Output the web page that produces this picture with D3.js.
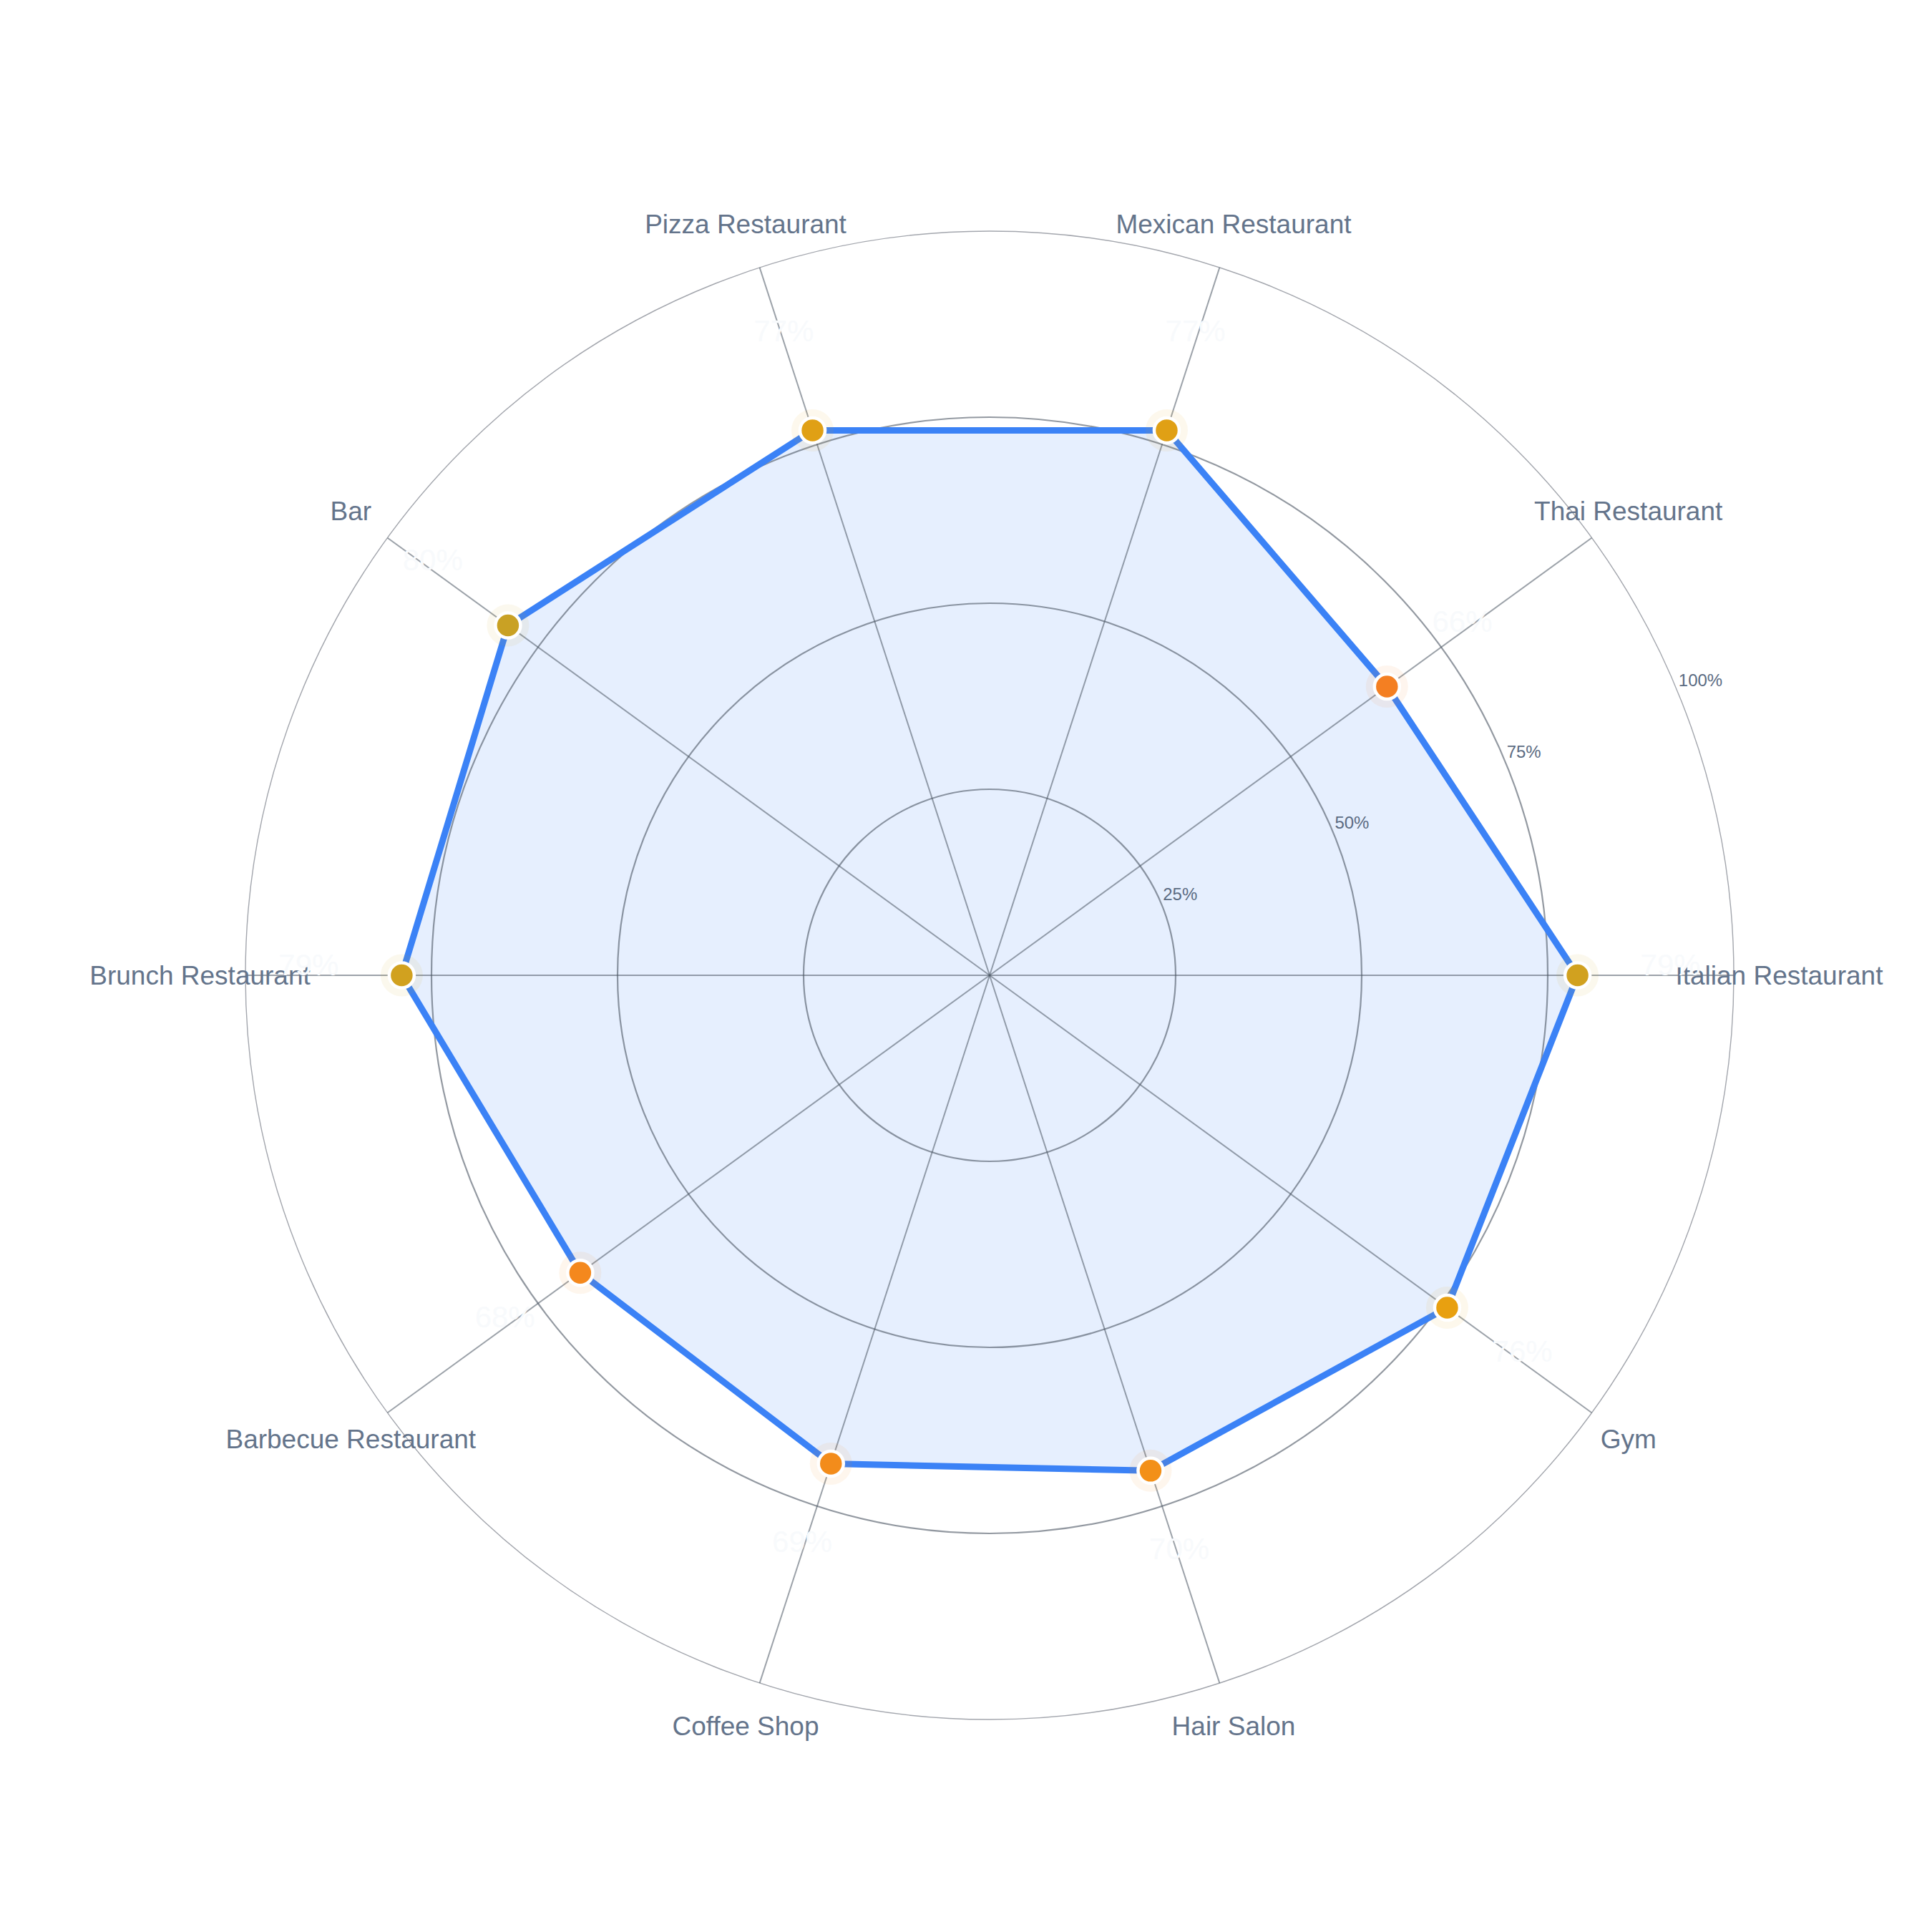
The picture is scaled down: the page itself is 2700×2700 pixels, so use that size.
<!DOCTYPE html>
<html>
<head>
<meta charset="utf-8">
<script src="https://cdn.jsdelivr.net/npm/d3@7/dist/d3.min.js"></script>
<style>
  html, body { margin: 0; padding: 0; background: #ffffff; }
  svg { display: block; }
</style>
</head>
<body>
<script>
// ---- Data ----
const categories = ["Italian Restaurant", "Thai Restaurant", "Mexican Restaurant", "Pizza Restaurant", "Bar",
                    "Brunch Restaurant", "Barbecue Restaurant", "Coffee Shop", "Hair Salon", "Gym"];
const values = [79, 66, 77, 77, 80, 79, 68, 69, 70, 76];
const tickValues = [25, 50, 75, 100];
const tickLabels = ["25%", "50%", "75%", "100%"];

// ---- Layout ----
const W = 2700, H = 2700;
const cx = 1383, cy = 1363, R = 1040;

const svg = d3.select("body").append("svg")
  .attr("width", W).attr("height", H)
  .attr("viewBox", `0 0 ${W} ${H}`);

svg.append("rect").attr("width", W).attr("height", H).attr("fill", "#ffffff");

const r = d3.scaleLinear().domain([0, 100]).range([0, R]);
const angle = d3.scaleLinear().domain([0, categories.length]).range([0, 2 * Math.PI]);
const colorScale = d3.scaleLinear()
  .domain([66, 70, 76, 80])
  .range(["#f47f22", "#f39018", "#e8a010", "#c9a124"]);

const px = (i, rad) => cx + rad * Math.cos(angle(i));
const py = (i, rad) => cy - rad * Math.sin(angle(i));

const g = svg.append("g");

// ---- Filled area ----
const pts = values.map((v, i) => [px(i, r(v)), py(i, r(v))]);
g.append("path")
  .attr("d", "M" + pts.map(p => p.join(",")).join("L") + "Z")
  .attr("fill", "#3b82f6")
  .attr("fill-opacity", 0.13)
  .attr("stroke", "none");

// ---- Grid circles ----
g.selectAll("circle.grid")
  .data(tickValues)
  .enter().append("circle")
  .attr("class", "grid")
  .attr("cx", cx).attr("cy", cy)
  .attr("r", d => r(d))
  .attr("fill", "none")
  .attr("stroke", d => d === 100 ? "#a3a6ad" : "#4b5563")
  .attr("stroke-opacity", d => d === 100 ? 1 : 0.6)
  .attr("stroke-width", d => d === 100 ? 1.4 : 2.2);

// ---- Spokes ----
g.selectAll("line.spoke")
  .data(categories)
  .enter().append("line")
  .attr("class", "spoke")
  .attr("x1", cx).attr("y1", cy)
  .attr("x2", (d, i) => px(i, r(100)))
  .attr("y2", (d, i) => py(i, r(100)))
  .attr("stroke", "#4b5563")
  .attr("stroke-opacity", 0.55)
  .attr("stroke-width", 2);

// ---- Outline ----
g.append("path")
  .attr("d", "M" + pts.map(p => p.join(",")).join("L") + "Z")
  .attr("fill", "none")
  .attr("stroke", "#3b82f6")
  .attr("stroke-width", 9)
  .attr("stroke-linejoin", "round");

// ---- Tick labels ----
const tickAngle = 22.5 * Math.PI / 180;
g.selectAll("text.tick")
  .data(tickValues)
  .enter().append("text")
  .attr("class", "tick")
  .attr("x", d => cx + r(d) * Math.cos(tickAngle) + 2)
  .attr("y", d => cy - r(d) * Math.sin(tickAngle) - 12)
  .attr("dominant-baseline", "middle")
  .attr("text-anchor", "start")
  .attr("font-family", "'Liberation Sans', Arial, Helvetica, sans-serif")
  .attr("font-size", 24)
  .attr("fill", "#5b6b82")
  .text((d, i) => tickLabels[i]);

// ---- Category labels ----
g.selectAll("text.cat")
  .data(categories)
  .enter().append("text")
  .attr("class", "cat")
  .attr("x", (d, i) => px(i, R * 1.061))
  .attr("y", (d, i) => py(i, R * 1.061))
  .attr("text-anchor", "middle")
  .attr("dominant-baseline", "central")
  .attr("font-family", "'Liberation Sans', Arial, Helvetica, sans-serif")
  .attr("font-size", 37)
  .attr("fill", "#64748b")
  .text(d => d);

// ---- Markers ----
const mk = g.selectAll("g.marker")
  .data(values)
  .enter().append("g")
  .attr("class", "marker")
  .attr("transform", (d, i) => `translate(${px(i, r(d))},${py(i, r(d))})`);

mk.append("circle")
  .attr("r", 29.5)
  .attr("fill", d => colorScale(d))
  .attr("fill-opacity", 0.08);

mk.append("circle")
  .attr("r", 17.5)
  .attr("fill", d => colorScale(d))
  .attr("stroke", "#ffffff")
  .attr("stroke-width", 4.5);

// ---- Value labels ----
g.selectAll("text.val")
  .data(values)
  .enter().append("text")
  .attr("class", "val")
  .attr("x", (d, i) => px(i, r(d) + 130))
  .attr("y", (d, i) => py(i, r(d) + 130) - 15)
  .attr("text-anchor", "middle")
  .attr("dominant-baseline", "central")
  .attr("font-family", "'Liberation Sans', Arial, Helvetica, sans-serif")
  .attr("font-size", 42)
  .attr("fill", "#f8fafc")
  .text(d => d + "%");
</script>
</body>
</html>
